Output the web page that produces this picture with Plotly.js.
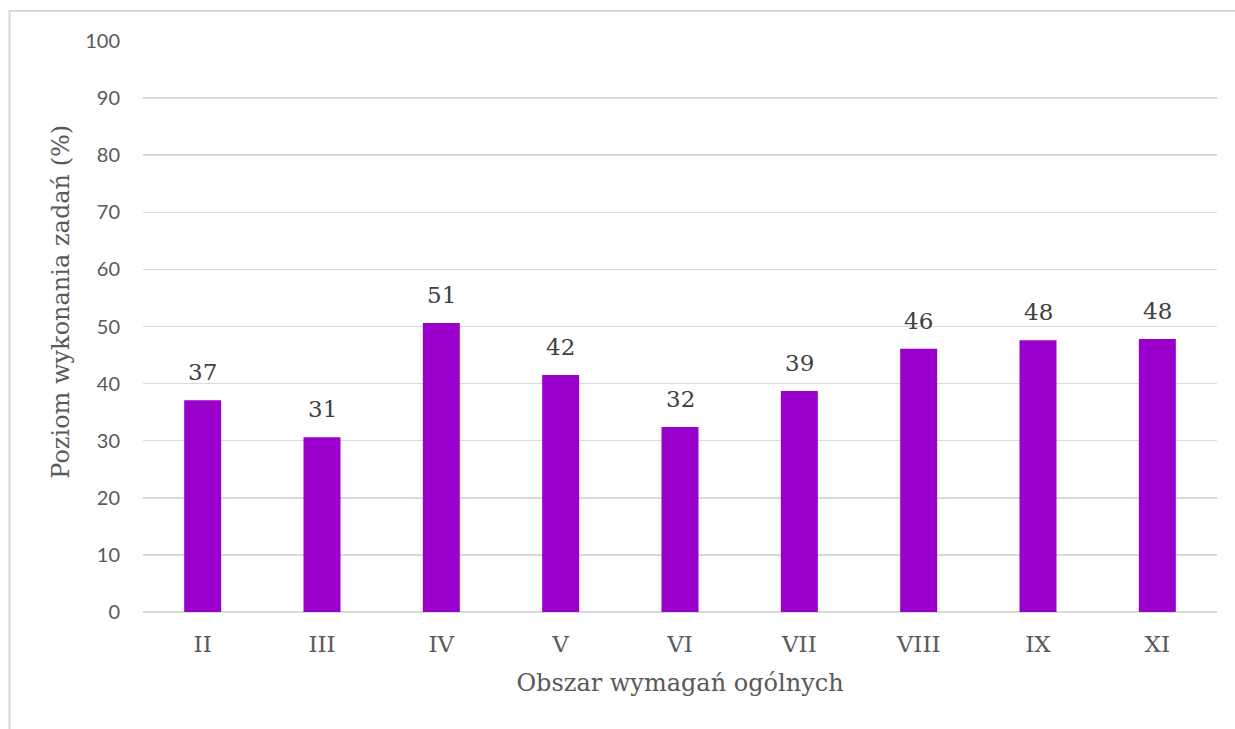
<!DOCTYPE html>
<html><head><meta charset="utf-8">
<script src="https://cdn.plot.ly/plotly-3.0.1.min.js"></script>
<style>html,body{margin:0;padding:0;background:#fff;}#chart{width:1235px;height:729px;}</style>
</head><body><div id="chart"></div>
<script>
const categories = ['II','III','IV','V','VI','VII','VIII','IX','XI'];
const values = [37.1, 30.6, 50.6, 41.5, 32.4, 38.7, 46.1, 47.6, 47.8];
const yTicks = [0,10,20,30,40,50,60,70,80,90,100];
const xTitle = 'Obszar wymagań ogólnych';
const yTitle = 'Poziom wykonania zadań (%)';

const serif = '"DejaVu Serif", "Liberation Serif", serif';
const sans = '"Lato", "Liberation Sans", sans-serif';

const labels = categories.map((c, i) => ({
  x: c, y: values[i], xref: 'x', yref: 'y',
  text: Math.round(values[i]).toString(),
  showarrow: false, yanchor: 'bottom', yshift: 13,
  font: {family: serif, size: 23, color: '#404040'}
}));
labels.push({
  xref: 'paper', yref: 'paper', x: -0.0765, y: 0.543,
  xanchor: 'center', yanchor: 'middle', textangle: -90,
  text: yTitle, showarrow: false,
  font: {family: serif, size: 24, color: '#595959'}
});

Plotly.newPlot('chart', [{
  type: 'bar',
  x: categories,
  y: values,
  width: 0.31,
  marker: {color: '#9900cc'},
  hoverinfo: 'x+y'
}], {
  width: 1235, height: 729,
  margin: {l: 143, r: 18, t: 41, b: 117},
  paper_bgcolor: '#fff', plot_bgcolor: '#fff',
  showlegend: false,
  xaxis: {
    type: 'category',
    tickfont: {family: serif, size: 23, color: '#595959'},
    ticks: '', ticklabelstandoff: 16,
    showline: false, showgrid: false, zeroline: false,
    title: {text: xTitle, font: {family: serif, size: 24, color: '#595959'}, standoff: 18}
  },
  yaxis: {
    range: [0, 100],
    tickvals: yTicks,
    ticktext: yTicks.map(String),
    tickfont: {family: sans, size: 20, color: '#595959'},
    ticks: '', ticklabelstandoff: 22,
    showgrid: true, gridcolor: '#d9d9d9', gridwidth: 1.5,
    zeroline: true, zerolinecolor: '#d9d9d9', zerolinewidth: 1.5,
    showline: false
  },
  annotations: labels,
  shapes: [{
    type: 'rect', xref: 'paper', yref: 'paper',
    x0: -0.1243, x1: 1.1, y0: -0.3, y1: 1.0525,
    line: {color: '#d9d9d9', width: 2}, fillcolor: 'rgba(0,0,0,0)', layer: 'below'
  }]
}, {displayModeBar: false, staticPlot: true});
</script></body></html>
